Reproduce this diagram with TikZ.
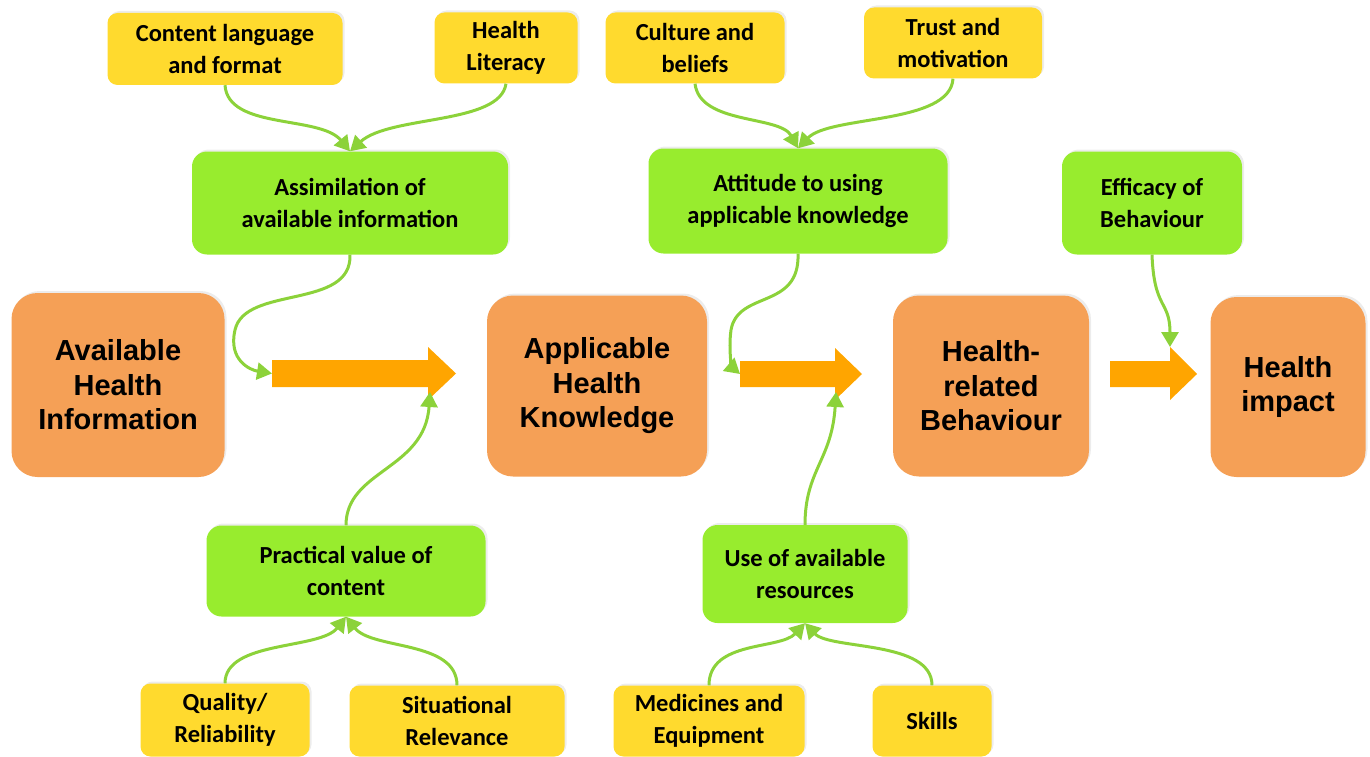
\documentclass[tikz,border=0pt]{standalone}
\usepackage{fontspec}
\setmainfont{Carlito}
\newfontfamily\arialf{Liberation Sans}
\usetikzlibrary{arrows.meta,shadows}
\definecolor{yel}{HTML}{FFDA2E}
\definecolor{grn}{HTML}{98EC2E}
\definecolor{org}{HTML}{F5A056}
\definecolor{fatorg}{HTML}{FFA500}
\definecolor{lnk}{HTML}{8CD23A}
\tikzset{
  base/.style={align=center,inner sep=0pt,draw=none,
    drop shadow={shadow xshift=2pt,shadow yshift=2pt,opacity=0.15}},
  ybox/.style={base,fill=yel,rounded corners=10pt,font=\fontsize{24.5}{32.5}\selectfont\bfseries},
  gbox/.style={base,fill=grn,rounded corners=15pt,font=\fontsize{24.5}{32.5}\selectfont\bfseries},
  obox/.style={base,fill=org,rounded corners=26pt,font=\arialf\fontsize{29}{34.5}\selectfont\bfseries},
  link/.style={draw=lnk,line width=3pt,-{Triangle[length=15pt,width=17pt]}},
  fat/.style={fill=fatorg}
}
\begin{document}
\begin{tikzpicture}[x=1pt,y=-1pt]
\useasboundingbox (0,0) rectangle (1370,757);
% yellow boxes
\node[ybox,minimum width=235,minimum height=72] (cl) at (225,49) {Content language\\and format};
\node[ybox,minimum width=143,minimum height=71] (hl) at (506,48) {Health\\Literacy};
\node[ybox,minimum width=179,minimum height=71] (cb) at (695,48) {Culture and\\beliefs};
\node[ybox,minimum width=178,minimum height=71] (tm) at (953,43) {Trust and\\motivation};
\node[ybox,minimum width=169,minimum height=73] (qr) at (225,720) {Quality/\\Reliability};
\node[ybox,minimum width=215,minimum height=71] (sr) at (457,721) {Situational\\Relevance};
\node[ybox,minimum width=191,minimum height=71] (me) at (709,721) {Medicines and\\Equipment};
\node[ybox,minimum width=119,minimum height=71] (sk) at (932,721) {Skills};
% green boxes
\node[gbox,minimum width=316,minimum height=103] (as) at (350,203) {Assimilation of\\available information};
\node[gbox,minimum width=299,minimum height=105] (at) at (798,201) {Attitude to using\\applicable knowledge};
\node[gbox,minimum width=180,minimum height=103] (ef) at (1152,203) {Efficacy of\\Behaviour};
\node[gbox,minimum width=279,minimum height=91] (pv) at (346,571) {Practical value of\\content};
\node[gbox,minimum width=205,minimum height=98] (ur) at (805,574) {Use of available\\resources};
% orange boxes
\node[obox,minimum width=213,minimum height=184] (ahi) at (118,385) {Available\\Health\\Information};
\node[obox,minimum width=220,minimum height=181] (ahk) at (597,386) {Applicable\\Health\\Knowledge};
\node[obox,minimum width=196,minimum height=181] (hrb) at (991,386) {Health-\\related\\Behaviour};
\node[obox,minimum width=155,minimum height=180] (hi) at (1288,387) {Health\\impact};
% fat arrows
\fill[fat] (272,360) -- (428,360) -- (428,347) -- (456,373.5) -- (428,400) -- (428,387) -- (272,387) -- cycle;
\fill[fat] (740,361) -- (835,361) -- (835,348) -- (862,374) -- (835,400) -- (835,387) -- (740,387) -- cycle;
\fill[fat] (1110,361) -- (1170,361) -- (1170,347) -- (1197,374) -- (1170,400) -- (1170,387) -- (1110,387) -- cycle;
\coordinate (a1l) at (272,373.5);
\coordinate (a1b) at (430,392);
\coordinate (a2l) at (740,374);
\coordinate (a2b) at (836,392);
\coordinate (a3t) at (1170,347);
% connectors
\draw[link] (cl.south) .. controls (228,130) and (320,115) .. (as.north);
\draw[link] (hl.south) .. controls (500,125) and (390,115) .. (as.north);
\draw[link] (cb.south) .. controls (700,125) and (780,115) .. (at.north);
\draw[link] (tm.south) .. controls (950,125) and (830,115) .. (at.north);
\draw[link] (qr.north) .. controls (225,640) and (320,650) .. (pv.south);
\draw[link] (sr.north) .. controls (457,640) and (372,650) .. (pv.south);
\draw[link] (me.north) .. controls (709,640) and (780,650) .. (ur.south);
\draw[link] (sk.north) .. controls (932,640) and (830,650) .. (ur.south);
\draw[link] (as.south) .. controls (352,310) and (245,285) .. (235,330) .. controls (228,360) and (250,370) .. (a1l);
\draw[link] (at.south) .. controls (800,310) and (738,290) .. (731,330) .. controls (728,352) and (733,368) .. (a2l);
\draw[link] (pv.north) .. controls (346,470) and (425,470) .. (a1b);
\draw[link] (ur.north) .. controls (805,470) and (832,460) .. (a2b);
\draw[link] (ef.south) .. controls (1154,310) and (1170,300) .. (a3t);
\end{tikzpicture}
\end{document}
